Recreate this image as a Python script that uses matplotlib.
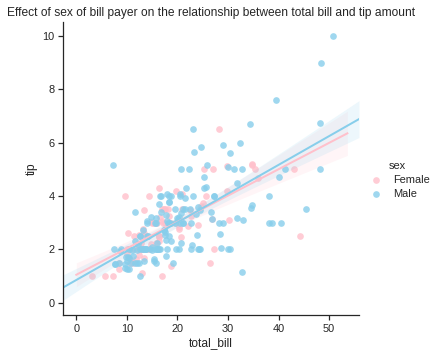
import numpy as np
import matplotlib
matplotlib.use("Agg")
import matplotlib.pyplot as plt

plt.rcParams['font.family'] = ['Liberation Sans', 'DejaVu Sans']

# tips data, split by sex of bill payer
female_bill = [16.99, 24.59, 35.26, 14.83, 10.33, 16.97, 20.29, 15.77, 19.65, 15.06,
               20.69, 16.93, 10.29, 34.81, 26.41, 16.45, 3.07, 17.07, 26.86, 25.28,
               14.73, 10.07, 34.83, 5.75, 16.32, 22.75, 11.35, 15.38, 44.30, 22.42,
               20.92, 14.31, 7.25, 25.71, 17.31, 10.65, 12.43, 24.08, 13.42, 12.48,
               29.80, 14.52, 11.38, 20.27, 11.17, 12.26, 18.26, 8.51, 10.33, 14.15,
               13.16, 17.47, 27.05, 16.43, 8.35, 18.64, 11.87, 29.85, 25.00, 13.39,
               16.21, 17.51, 10.59, 10.63, 9.60, 20.90, 18.15, 19.81, 43.11, 13.00,
               12.74, 13.00, 16.40, 16.47, 12.76, 13.27, 28.17, 12.90, 30.14, 13.42,
               15.98, 16.27, 10.09, 22.12, 35.83, 27.18, 18.78]
female_tip = [1.01, 3.61, 5.00, 3.02, 1.67, 3.50, 2.75, 2.23, 3.00, 3.00,
              2.45, 3.07, 2.60, 5.20, 1.50, 2.47, 1.00, 3.00, 3.14, 5.00,
              2.20, 1.83, 5.17, 1.00, 4.30, 3.25, 2.50, 3.00, 2.50, 3.48,
              4.08, 4.00, 1.00, 4.00, 3.50, 1.50, 1.80, 2.92, 1.68, 2.52,
              4.20, 2.00, 2.00, 2.83, 1.50, 2.00, 3.25, 1.25, 2.00, 2.00,
              2.75, 3.50, 5.00, 2.30, 1.50, 1.36, 1.63, 5.14, 3.75, 2.61,
              2.00, 3.00, 1.61, 2.00, 4.00, 3.50, 3.50, 4.19, 5.00, 2.00,
              2.01, 2.00, 2.50, 3.23, 2.23, 2.50, 6.50, 1.10, 3.09, 3.48,
              3.00, 2.50, 2.00, 2.88, 4.67, 2.00, 3.00]

male_bill = [10.34, 21.01, 23.68, 25.29, 8.77, 26.88, 15.04, 14.78, 10.27, 15.42,
             18.43, 21.58, 16.29, 20.65, 17.92, 39.42, 19.82, 17.81, 13.37, 12.69,
             21.70, 9.55, 18.35, 17.78, 24.06, 16.31, 18.69, 31.27, 16.04, 17.46,
             13.94, 9.68, 30.40, 18.29, 22.23, 32.40, 28.55, 18.04, 12.54, 9.94,
             25.56, 19.49, 38.01, 11.24, 48.27, 20.29, 13.81, 11.02, 18.29, 17.59,
             20.08, 20.23, 15.01, 12.02, 10.51, 17.92, 27.20, 22.76, 17.29, 19.44,
             16.66, 32.68, 15.98, 13.03, 18.28, 24.71, 21.16, 28.97, 22.49, 40.17,
             27.28, 12.03, 21.01, 12.46, 15.36, 20.49, 25.21, 18.24, 14.00, 38.07,
             23.95, 29.93, 11.69, 14.26, 15.95, 8.52, 22.82, 19.08, 16.00, 34.30,
             41.19, 9.78, 7.51, 14.07, 13.13, 17.26, 24.55, 19.77, 48.17, 16.49,
             21.50, 12.66, 13.81, 24.52, 20.76, 31.71, 50.81, 15.81, 7.25, 31.85,
             16.82, 32.90, 17.89, 14.48, 34.63, 34.65, 23.33, 45.35, 23.17, 40.55,
             20.69, 30.46, 23.10, 15.69, 28.44, 15.48, 16.58, 7.56, 10.34, 13.51,
             18.71, 20.53, 26.59, 38.73, 24.27, 30.06, 25.89, 48.33, 28.15, 11.59,
             7.74, 12.16, 8.58, 13.42, 20.45, 13.28, 24.01, 15.69, 11.61, 10.77,
             15.53, 10.07, 12.60, 32.83, 29.03, 22.67, 17.82]
male_tip = [1.66, 3.50, 3.31, 4.71, 2.00, 3.12, 1.96, 3.23, 1.71, 1.57,
            3.00, 3.92, 3.71, 3.35, 4.08, 7.58, 3.18, 2.34, 2.00, 2.00,
            4.30, 1.45, 2.50, 3.27, 3.60, 2.00, 2.31, 5.00, 2.24, 2.54,
            3.06, 1.32, 5.60, 3.00, 5.00, 6.00, 2.05, 3.00, 2.50, 1.56,
            4.34, 3.51, 3.00, 1.76, 6.73, 3.21, 2.00, 1.98, 3.76, 2.64,
            3.15, 2.01, 2.09, 1.97, 1.25, 3.08, 4.00, 3.00, 2.71, 3.00,
            3.40, 5.00, 2.03, 2.00, 4.00, 5.85, 3.00, 3.00, 3.50, 4.73,
            4.00, 1.50, 3.00, 1.50, 1.64, 4.06, 4.29, 3.76, 3.00, 4.00,
            2.55, 5.07, 2.31, 2.50, 2.00, 1.48, 2.18, 1.50, 2.00, 6.70,
            5.00, 1.73, 2.00, 2.50, 2.00, 2.74, 2.00, 2.00, 5.00, 2.00,
            3.50, 2.50, 2.00, 3.48, 2.24, 4.50, 10.00, 3.16, 5.15, 3.18,
            4.00, 3.11, 2.00, 2.00, 3.55, 3.68, 5.65, 3.50, 6.50, 3.00,
            5.00, 2.00, 4.00, 1.50, 2.56, 2.02, 4.00, 1.44, 2.00, 2.00,
            4.00, 4.00, 3.41, 3.00, 2.03, 2.00, 5.16, 9.00, 3.00, 1.50,
            1.44, 2.20, 1.92, 1.58, 3.00, 2.72, 2.00, 3.00, 3.39, 1.47,
            3.00, 1.25, 1.00, 1.17, 5.92, 2.00, 1.75]

groups = ["Female", "Male"]
colors = {"Female": "pink", "Male": "skyblue"}


def fit_line(x, y, grid, t=1.98):
    x = np.asarray(x)
    y = np.asarray(y)
    slope, icept = np.polyfit(x, y, 1)
    resid = y - (icept + slope * x)
    n = len(x)
    s = np.sqrt((resid ** 2).sum() / (n - 2))
    sxx = ((x - x.mean()) ** 2).sum()
    yhat = icept + slope * grid
    err = t * s * np.sqrt(1.0 / n + (grid - x.mean()) ** 2 / sxx)
    return yhat, yhat - err, yhat + err


fig = plt.figure(figsize=(441 / 72, 356 / 72), dpi=72)
ax = fig.add_axes([63 / 441, 41 / 356, 296 / 441, 293 / 356])

data = {"Female": (female_bill, female_tip), "Male": (male_bill, male_tip)}
line_span = {"Female": (0.0, 53.6), "Male": (-2.63, 55.9)}
handles = []
for g in groups:
    bx, ty = data[g]
    h = ax.scatter(bx, ty, s=45, color=colors[g], alpha=0.8, linewidths=0, label=g)
    handles.append(h)
    grid = np.linspace(line_span[g][0], line_span[g][1], 100)
    yhat, lo, hi = fit_line(bx, ty, grid)
    ax.fill_between(grid, lo, hi, color=colors[g], alpha=0.15, linewidth=0)
    ax.plot(grid, yhat, color=colors[g], lw=2)

ax.set_xlim(-2.63, 55.9)
ax.set_ylim(-0.46, 10.52)
ax.set_xticks([0, 10, 20, 30, 40, 50])
ax.set_yticks([0, 2, 4, 6, 8, 10])
for sp in ["top", "right"]:
    ax.spines[sp].set_visible(False)
for sp in ["left", "bottom"]:
    ax.spines[sp].set_color("#262626")
    ax.spines[sp].set_linewidth(1.25)
ax.tick_params(length=5, width=1.25, color="#262626", labelsize=11, labelcolor="#262626")
ax.set_xlabel("total_bill", fontsize=12, color="#262626")
ax.set_ylabel("tip", fontsize=12, color="#262626")
ax.set_title("Effect of sex of bill payer on the relationship between total bill and tip amount",
             fontsize=12, color="#262626")

leg = fig.legend(handles, groups, title="sex", loc="center left",
                 bbox_to_anchor=(355 / 441, 1 - 180 / 356), frameon=False,
                 fontsize=11, title_fontsize=11, handletextpad=0.6,
                 markerscale=1.0, labelspacing=0.35)
for t in leg.get_texts():
    t.set_color("#262626")
leg.get_title().set_color("#262626")

fig.savefig("out.png", dpi=72)
